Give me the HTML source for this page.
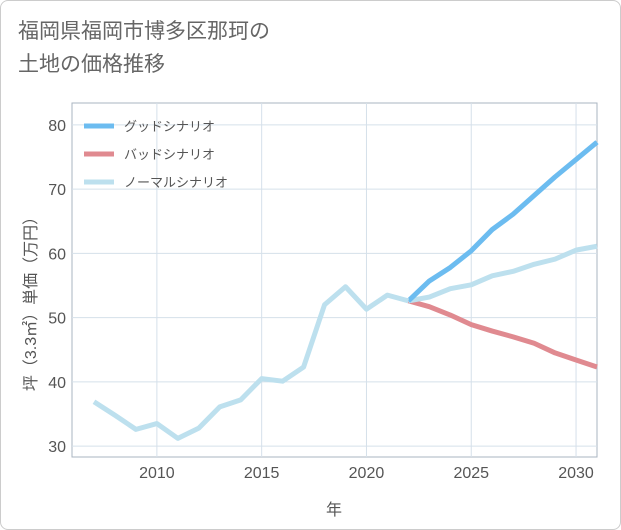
<!DOCTYPE html>
<html><head><meta charset="utf-8"><style>
body{margin:0;background:#fff;font-family:"Liberation Sans","Noto Sans CJK JP",sans-serif;}
#card{position:absolute;left:0;top:0;width:619px;height:528px;border:1px solid #ccc;border-radius:8px;background:#fff;}
#title{position:absolute;left:17px;top:14px;font-size:21px;line-height:33px;color:#666;}
</style></head><body>
<div id="card">
<div id="title">福岡県福岡市博多区那珂の<br>土地の価格推移</div>
<svg id="chart" width="621" height="530" style="position:absolute;left:-1px;top:-1px"></svg>
</div>
<script>
const years=[2007,2008,2009,2010,2011,2012,2013,2014,2015,2016,2017,2018,2019,2020,2021,2022];
const histValues=[36.9,34.8,32.6,33.5,31.2,32.8,36.1,37.2,40.5,40.1,42.3,52.0,54.8,51.3,53.5,52.6];
const futureYears=[2022,2023,2024,2025,2026,2027,2028,2029,2030,2031];
const goodValues=[52.6,55.7,57.8,60.4,63.7,66.1,69.0,71.9,74.6,77.3];
const badValues=[52.6,51.7,50.4,48.9,47.9,47.0,46.0,44.5,43.4,42.3];
const normalValues=[52.6,53.2,54.5,55.1,56.5,57.2,58.3,59.1,60.5,61.1];
const xTicks=[2010,2015,2020,2025,2030];
const yTicks=[30,40,50,60,70,80];
const legendLabels=["グッドシナリオ","バッドシナリオ","ノーマルシナリオ"];
const colors=["#6cbcf0","#e08a90","#bde0ee"];
const L=72,R=597,T=103,B=457,x0=2005.95,x1=2031,y0=28.3,y1=83.4;
const X=v=>L+(v-x0)/(x1-x0)*(R-L);
const Y=v=>B-(v-y0)/(y1-y0)*(B-T);
const svg=document.getElementById('chart');const NS='http://www.w3.org/2000/svg';
function mk(t,a,p){const e=document.createElementNS(NS,t);for(const k in a)e.setAttribute(k,a[k]);(p||svg).appendChild(e);return e;}
const bg=mk('rect',{x:L,y:T,width:R-L,height:B-T,fill:'#fff',stroke:'#aab4c0'});


xTicks.forEach(t=>{const g=mk('line',{x1:X(t),x2:X(t),y1:T,y2:B,stroke:'#d5e0ea'});


const s=mk('text',{x:X(t),y:478,'text-anchor':'middle','font-size':16,fill:'#555'});s.textContent=t;

});
yTicks.forEach(t=>{const g=mk('line',{x1:L,x2:R,y1:Y(t),y2:Y(t),stroke:'#d5e0ea'});


const s=mk('text',{x:66,y:Y(t)+6,'text-anchor':'end','font-size':16,fill:'#555'});s.textContent=t;

});
function line(xs,vs,c,name){const p=mk('polyline',{points:xs.map((x,i)=>X(x)+','+Y(vs[i])).join(' '),fill:'none',stroke:c,'stroke-width':5,'stroke-linejoin':'round'});

}
line(futureYears,badValues,colors[1],'bad-scenario-line');
line(futureYears,normalValues,colors[2],'normal-scenario-line');
line(futureYears,goodValues,colors[0],'good-scenario-line');
line(years,histValues,colors[2],'historical-line');
legendLabels.forEach((l,i)=>{const y=126+i*28;
const ln=mk('line',{x1:84,x2:114,y1:y,y2:y,stroke:colors[i],'stroke-width':5});


const s=mk('text',{x:124,y:y+5,'font-size':13,fill:'#555'});s.textContent=l;

});
const xt=mk('text',{x:334,y:515,'text-anchor':'middle','font-size':16,fill:'#555'});xt.textContent='年';


const yt=mk('text',{x:0,y:0,'text-anchor':'middle','font-size':16,fill:'#555',transform:'translate(36,300) rotate(-90)'});yt.textContent='坪（3.3㎡）単価（万円）';


</script></body></html>
